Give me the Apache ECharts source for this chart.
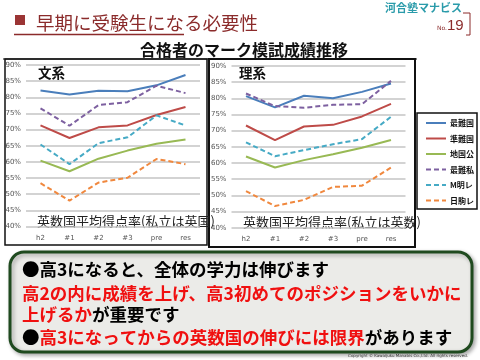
<!DOCTYPE html>
<html><head><meta charset="utf-8">
<script src="https://cdn.jsdelivr.net/npm/echarts@6/dist/echarts.min.js"></script>
<style>html,body{margin:0;padding:0;background:#fff}#c{width:480px;height:360px}</style>
</head><body><div id="c"></div>
<script>
const categories = ['h2', '#1', '#2', '#3', 'pre', 'res'];
const seriesNames = ['最難国', '準難国', '地国公', '最難私', 'M明レ', '日駒レ'];
const yTicks = [40, 45, 50, 55, 60, 65, 70, 75, 80, 85, 90];
// 文系 (humanities)
const bunSaiNankoku  = [82.1, 80.9, 82.0, 81.9, 83.7, 86.9];
const bunJunNankoku  = [71.3, 67.4, 70.7, 71.3, 74.5, 77.0];
const bunChikokko    = [60.4, 57.1, 61.0, 63.5, 65.6, 66.9];
const bunSaiNanshi   = [76.6, 71.2, 77.6, 78.5, 83.6, 81.3];
const bunMeiRe       = [65.4, 59.3, 65.8, 67.6, 74.4, 71.3];
const bunNikkoRe     = [53.4, 48.0, 53.6, 55.1, 60.9, 59.3];
// 理系 (sciences)
const riSaiNankoku   = [80.7, 77.2, 80.8, 80.0, 82.0, 84.6];
const riJunNankoku   = [71.6, 67.1, 71.3, 71.8, 74.4, 78.3];
const riChikokko     = [62.0, 58.6, 60.9, 62.7, 64.7, 67.1];
const riSaiNanshi    = [81.5, 77.6, 77.1, 78.0, 78.2, 85.4];
const riMeiRe        = [66.4, 62.1, 64.0, 65.8, 67.4, 74.3];
const riNikkoRe      = [51.3, 46.7, 48.6, 52.6, 53.0, 58.6];

const bunData = [bunSaiNankoku, bunJunNankoku, bunChikokko, bunSaiNanshi, bunMeiRe, bunNikkoRe];
const riData = [riSaiNankoku, riJunNankoku, riChikokko, riSaiNanshi, riMeiRe, riNikkoRe];
const colors = ['#4A7EBB', '#BE4B48', '#98B954', '#7D60A0', '#46AAC5', '#F0883E'];
const dashed = [false, false, false, true, true, true];

const JP = '"Noto Sans CJK JP", sans-serif';
const chart = echarts.init(document.getElementById('c'), null, {renderer: 'canvas'});

function mkSeries(data, gi) {
  return data.map((d, i) => ({
    name: seriesNames[i], type: 'line', xAxisIndex: gi, yAxisIndex: gi,
    data: d, symbol: 'none', showSymbol: false, smooth: false, silent: true,
    lineStyle: {color: colors[i], width: 2, type: dashed[i] ? [5, 3] : 'solid'},
    itemStyle: {color: colors[i]}
  }));
}
function yAx(gi) {
  return {gridIndex: gi, type: 'value', min: 40, max: 90, interval: 5,
    axisLine: {show: false}, axisTick: {show: false},
    axisLabel: {formatter: '{value}%', fontSize: 7, color: '#555', margin: 5, fontFamily: 'DejaVu Sans'},
    splitLine: {lineStyle: {color: '#c4c4c4', width: 1.5}}};
}
function xAx(gi) {
  return {gridIndex: gi, type: 'category', data: categories, boundaryGap: true,
    axisLine: {show: false}, axisTick: {show: false},
    axisLabel: {fontSize: 7, color: '#555', margin: 8, fontFamily: 'DejaVu Sans'},
    splitLine: {show: false}};
}

const option = {
  animation: false,
  backgroundColor: '#fff',
  grid: [
    {left: 26, right: 280, top: 65, bottom: 133.5},
    {left: 231.5, right: 74.5, top: 66, bottom: 132.3}
  ],
  xAxis: [xAx(0), xAx(1)],
  yAxis: [yAx(0), yAx(1)],
  legend: {
    data: seriesNames, orient: 'vertical', left: 420, top: 114,
    itemWidth: 20, itemHeight: 8, itemGap: 7.5, selectedMode: false,
    itemStyle: {opacity: 0},
    textStyle: {fontSize: 8, fontWeight: 'bold', color: '#111', fontFamily: JP, padding: [0, 0, 0, -1]}
  },
  series: [...mkSeries(bunData, 0), ...mkSeries(riData, 1)],
  graphic: [
    // header
    {type: 'rect', shape: {x: 15, y: 15, width: 10, height: 10}, style: {fill: '#9B3535'}},
    {type: 'text', x: 36, y: 23, style: {text: '早期に受験生になる必要性', font: '18.5px ' + JP, fill: '#8B2B2B', textVerticalAlign: 'middle'}},
    {type: 'line', shape: {x1: 14, y1: 34.5, x2: 184, y2: 34.5}, style: {stroke: '#8B2B2B', lineWidth: 1.5}},
    {type: 'text', x: 385, y: 8, style: {text: '河合塾マナビス', font: 'bold 11px ' + JP, fill: '#2A9BAA', textVerticalAlign: 'middle'}},
    {type: 'polyline', shape: {points: [[463, 13], [470, 13], [470, 35], [466, 35]]}, style: {stroke: '#8B2B2B', lineWidth: 1, fill: null}},
    {type: 'text', x: 437, y: 28, style: {text: 'No.', font: '6px DejaVu Sans', fill: '#8B2B2B', textVerticalAlign: 'middle'}},
    {type: 'text', x: 447, y: 26, style: {text: '19', font: '15px "Liberation Sans"', fill: '#8B2B2B', textVerticalAlign: 'middle'}},
    // chart title
    {type: 'text', x: 244, y: 50, style: {text: '合格者のマーク模試成績推移', font: 'bold 16px ' + JP, fill: '#111', textAlign: 'center', textVerticalAlign: 'middle'}},
    {type: 'line', shape: {x1: 3, y1: 59, x2: 417, y2: 59}, style: {stroke: '#111', lineWidth: 1.2}},
    // chart frames
    {type: 'rect', shape: {x: 5, y: 59, width: 202, height: 186}, style: {fill: null, stroke: '#111', lineWidth: 1.5}},
    {type: 'rect', shape: {x: 209, y: 59, width: 206, height: 188}, style: {fill: null, stroke: '#111', lineWidth: 2}},
    {type: 'rect', shape: {x: 417, y: 113, width: 60, height: 96}, style: {fill: null, stroke: '#111', lineWidth: 1.5}},
    {type: 'text', x: 38, y: 73, style: {text: '文系', font: 'bold 13.5px ' + JP, fill: '#111', textVerticalAlign: 'middle'}},
    {type: 'text', x: 239, y: 73, style: {text: '理系', font: 'bold 13.5px ' + JP, fill: '#111', textVerticalAlign: 'middle'}},
    {type: 'text', x: 37, y: 221, style: {text: '英数国平均得点率(私立は英国)', font: '13px ' + JP, fill: '#222', textVerticalAlign: 'middle'}},
    {type: 'text', x: 243, y: 222, style: {text: '英数国平均得点率(私立は英数)', font: '13px ' + JP, fill: '#222', textVerticalAlign: 'middle'}},
    // message box
    {type: 'rect', shape: {x: 10, y: 252, width: 462, height: 100, r: 14},
      style: {fill: '#ebebe8', stroke: '#1f4a1f', lineWidth: 3, shadowColor: 'rgba(0,0,0,0.3)', shadowBlur: 4, shadowOffsetX: 2, shadowOffsetY: 2}},
    {type: 'text', x: 22, y: 269, style: {text: '●高3になると、全体の学力は伸びます', font: 'bold 17.5px ' + JP, fill: '#000', textVerticalAlign: 'middle'}},
    {type: 'text', x: 22, y: 293, style: {text: '高2の内に成績を上げ、高3初めてのポジションをいかに', font: 'bold 17.5px ' + JP, fill: '#F01010', textVerticalAlign: 'middle'}},
    {type: 'text', x: 22, y: 314, style: {text: '{r|上げるか}{k|が重要です}', font: 'bold 17.5px ' + JP, textVerticalAlign: 'middle',
      rich: {r: {fill: '#F01010', font: 'bold 17.5px ' + JP}, k: {fill: '#000', font: 'bold 17.5px ' + JP}}}},
    {type: 'text', x: 22, y: 337, style: {text: '{k|●}{r|高3になってからの英数国の伸びには限界}{k|があります}', font: 'bold 17.5px ' + JP, textVerticalAlign: 'middle',
      rich: {r: {fill: '#F01010', font: 'bold 17.5px ' + JP}, k: {fill: '#000', font: 'bold 17.5px ' + JP}}}},
    {type: 'text', x: 468, y: 356, style: {text: 'Copyright © Kawaijuku Manabis Co.,Ltd. All rights reserved.', font: '4px DejaVu Sans', fill: '#333', textAlign: 'right', textVerticalAlign: 'middle'}}
  ]
};
chart.setOption(option);
</script></body></html>
